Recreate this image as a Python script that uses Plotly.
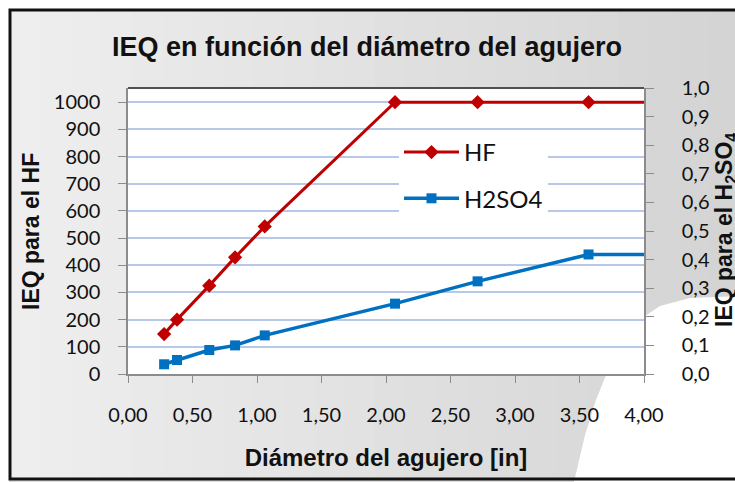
import plotly.graph_objects as go

# ---- data ----
diam_hf = [0.28, 0.38, 0.63, 0.83, 1.06, 2.07, 2.71, 3.57, 4.50]
ieq_hf = [147, 200, 325, 429, 543, 1000, 1000, 1000, 1000]

diam_h2so4 = [0.28, 0.38, 0.63, 0.83, 1.06, 2.07, 2.71, 3.57, 4.50]
ieq_h2so4 = [0.034, 0.049, 0.084, 0.100, 0.135, 0.246, 0.324, 0.418, 0.418]

title_text = "IEQ en función del diámetro del agujero"
x_title = "Diámetro del agujero [in]"
y_title = "IEQ para el HF"
y2_title = "IEQ para el H<sub>2</sub>SO<sub>4</sub>"

# ---- geometry helpers (layout only) ----
W, H = 735, 482
ML, MR, MT, MB = 128, 91, 88, 108
PW, PH = W - ML - MR, H - MT - MB


def fx(px):
    return (px - ML) / PW


def fy(py):
    return (H - MB - py) / PH


TICKFONT = dict(family="Lato, Noto Sans, sans-serif", size=20, color="#111111")

fig = go.Figure()
fig.add_trace(go.Scatter(
    x=diam_hf, y=ieq_hf, name="HF", mode="lines+markers",
    line=dict(color="#C00000", width=3),
    marker=dict(symbol="diamond", size=11, color="#C00000"),
    legendgroup="a",
))
fig.add_trace(go.Scatter(
    x=diam_h2so4, y=ieq_h2so4, name="H2SO4", mode="lines+markers",
    line=dict(color="#0070C0", width=3.5),
    marker=dict(symbol="square", size=10, color="#0070C0"),
    yaxis="y2", legendgroup="b",
))

shapes = []
# white strips outside the frame
shapes.append(dict(type="rect", xref="paper", yref="paper", layer="below",
                   x0=fx(-5), x1=fx(745), y0=fy(9), y1=fy(-5),
                   fillcolor="white", line=dict(width=0)))
shapes.append(dict(type="rect", xref="paper", yref="paper", layer="below",
                   x0=fx(-5), x1=fx(9), y0=fy(490), y1=fy(-5),
                   fillcolor="white", line=dict(width=0)))
# gray gradient background (vertical bands)
n = 24
x0, x1 = 10, 740
c0, c1 = (0xEE, 0xEE, 0xEE), (0xD4, 0xD4, 0xD4)
for i in range(n):
    t = i / (n - 1)
    c = tuple(int(round(a + (b - a) * t)) for a, b in zip(c0, c1))
    shapes.append(dict(
        type="rect", xref="paper", yref="paper", layer="below",
        x0=fx(x0 + (x1 - x0) * i / n), x1=fx(x0 + (x1 - x0) * (i + 1) / n + 1),
        y0=fy(480), y1=fy(10),
        fillcolor="rgb(%d,%d,%d)" % c, line=dict(width=0),
    ))
# white blob lower-right (polygon)
blob_pts = [(740, 296), (690, 298), (660, 306), (636, 322), (618, 345), (606, 375),
            (596, 400), (585, 435), (574, 482), (740, 482)]
blob = "M " + " L ".join("%.5f,%.5f" % (fx(a), fy(b)) for a, b in blob_pts) + " Z"
shapes.append(dict(type="path", xref="paper", yref="paper", layer="below",
                   path=blob, fillcolor="white", line=dict(width=0)))
# plot area white
shapes.append(dict(type="rect", xref="paper", yref="paper", layer="below",
                   x0=0, x1=1, y0=0, y1=1, fillcolor="white", line=dict(width=0)))
# top border of plot area
shapes.append(dict(type="line", xref="paper", yref="paper", layer="above",
                   x0=0, x1=1, y0=1, y1=1, line=dict(color="#505050", width=2)))
# outer frame
shapes.append(dict(type="rect", xref="paper", yref="paper", layer="above",
                   x0=fx(10), x1=fx(742), y0=fy(479), y1=fy(10),
                   line=dict(color="#111111", width=3), fillcolor="rgba(0,0,0,0)"))

fig.update_layout(
    width=W, height=H,
    margin=dict(l=ML, r=MR, t=MT, b=MB, pad=0),
    paper_bgcolor="#dcdcdc", plot_bgcolor="white",
    separators=",.",
    showlegend=True,
    title=dict(text="<b>" + title_text + "</b>", xref="container", x=367 / W, xanchor="center",
               yref="container", y=1 - 47 / H, yanchor="middle",
               font=dict(family="Liberation Sans, Arial", size=27, color="#111111")),
    xaxis=dict(range=[0, 4], dtick=0.5, tickformat=".2f", showgrid=False, zeroline=False,
               showline=True, linecolor="#8c8c8c", linewidth=1.5, automargin=False,
               ticks="outside", ticklen=7, tickcolor="#8c8c8c",
               tickfont=TICKFONT, ticklabelstandoff=15,
               title=dict(text="<b>" + x_title + "</b>", standoff=24,
                          font=dict(family="Liberation Sans, Arial", size=24, color="#111111"))),
    yaxis=dict(range=[0, 1052], dtick=100, tickformat="d", showgrid=True,
               gridcolor="#b7c9e6", gridwidth=2, zeroline=False, automargin=False,
               showline=True, linecolor="#8c8c8c", linewidth=1.5,
               ticks="outside", ticklen=8, tickcolor="#8c8c8c",
               tickfont=TICKFONT, ticklabelstandoff=14),
    yaxis2=dict(range=[0, 1.0], dtick=0.1, tickformat=".1f", overlaying="y", side="right",
                showgrid=False, zeroline=False, automargin=False,
                showline=True, linecolor="#8c8c8c", linewidth=1.5,
                ticks="outside", ticklen=8, tickcolor="#8c8c8c",
                tickfont=TICKFONT, ticklabelstandoff=24),
    legend=dict(x=fx(399), y=fy(130), xanchor="left", yanchor="top",
                bgcolor="white", borderwidth=0, itemwidth=55,
                traceorder="grouped", tracegroupgap=12,
                font=dict(family="Lato, Noto Sans, sans-serif", size=24, color="#111111")),
    shapes=shapes,
    annotations=[
        dict(text="<b>" + y_title + "</b>", xref="paper", yref="paper",
             x=fx(31), y=fy(232), xanchor="center", yanchor="middle", textangle=-90,
             showarrow=False, font=dict(family="Liberation Sans, Arial", size=23, color="#111111")),
        dict(text="<b>" + y2_title + "</b>", xref="paper", yref="paper",
             x=fx(725), y=fy(230), xanchor="center", yanchor="middle", textangle=-90,
             showarrow=False, font=dict(family="Liberation Sans, Arial", size=23, color="#111111")),
    ],
)

fig.write_html("out.html", config={"displayModeBar": False},
               post_script="document.body.style.margin='0';")
